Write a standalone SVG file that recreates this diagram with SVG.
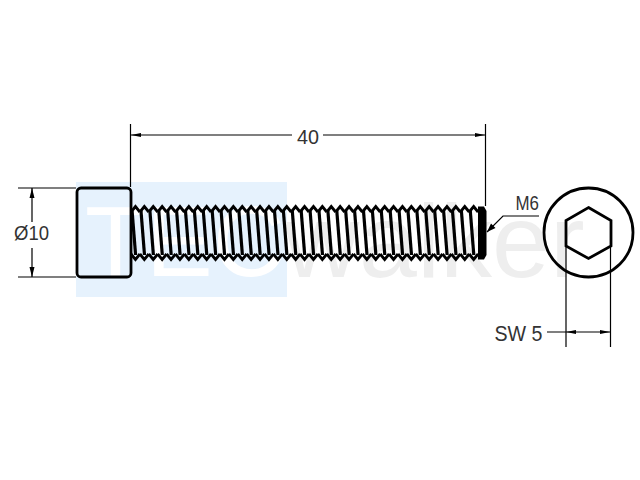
<svg xmlns="http://www.w3.org/2000/svg" width="640" height="480" viewBox="0 0 640 480">
<style>
.dim{stroke:#000;stroke-width:1.2;fill:none}
.thick{stroke:#000;stroke-width:2.8;fill:none;stroke-linejoin:miter}
.ar{fill:#000}
.t{font-family:"Liberation Sans",Arial,sans-serif;fill:#333}
.w{font-family:"Liberation Sans",Arial,sans-serif}
</style>
<defs>
<g id="th"><path class="thick" d="M0 212L4.450 206.500L8.900 212M0 254L4.450 259.500L8.900 254"/><path d="M-0.500 211L2.700 211L6.200 255L3 255Z" fill="#000"/></g>
</defs>
<rect width="640" height="480" fill="#fff"/>
<g id="watermark">
<rect x="76" y="182" width="211" height="115" fill="#e6f2fd"/>
<text class="w" x="85" y="276" font-size="100" fill="#fff">TEC</text>
<text class="w" x="284" y="277" font-size="104" fill="#eeeeee">walker</text>
</g>
<g id="connectors">
<path class="dim" d="M18 188H76M18 277H76M32 188V222M32 248V277M130.500 124V187M485.500 124V206M131 135H292M323 135H485M487 232L503 216H539M566 246V347M610.500 246V347M547 332H610"/>
<path class="ar" d="M32 188L34.500 198H29.500ZM32 277L34.500 267H29.500ZM131 135L141 133V137ZM485 135L475 133V137ZM487 232L491 223.500L495.500 228ZM566 332L576 330V334ZM610 332L600 330V334Z"/>
</g>
<g id="head"><rect class="thick" x="77" y="188" width="54" height="89" rx="4"/></g>
<g id="shaft">
<use href="#th" x="131"/><use href="#th" x="139.900"/><use href="#th" x="148.800"/><use href="#th" x="157.700"/><use href="#th" x="166.600"/><use href="#th" x="175.500"/><use href="#th" x="184.400"/><use href="#th" x="193.300"/><use href="#th" x="202.200"/><use href="#th" x="211.100"/>
<use href="#th" x="220"/><use href="#th" x="228.900"/><use href="#th" x="237.800"/><use href="#th" x="246.700"/><use href="#th" x="255.600"/><use href="#th" x="264.500"/><use href="#th" x="273.400"/><use href="#th" x="282.300"/><use href="#th" x="291.200"/><use href="#th" x="300.100"/>
<use href="#th" x="309"/><use href="#th" x="317.900"/><use href="#th" x="326.800"/><use href="#th" x="335.700"/><use href="#th" x="344.600"/><use href="#th" x="353.500"/><use href="#th" x="362.400"/><use href="#th" x="371.300"/><use href="#th" x="380.200"/><use href="#th" x="389.100"/>
<use href="#th" x="398"/><use href="#th" x="406.900"/><use href="#th" x="415.800"/><use href="#th" x="424.700"/><use href="#th" x="433.600"/><use href="#th" x="442.500"/><use href="#th" x="451.400"/><use href="#th" x="460.300"/><use href="#th" x="469.200"/>
<path d="M478 206.500L480 206.500H484L486.500 211V255L484 259.500H478Z" fill="#000"/>
</g>
<g id="end-view">
<circle class="thick" cx="588.500" cy="232.500" r="44.500"/>
<path class="thick" d="M588.500 207.500L611 220.500V246L588.500 258.500L566 246V220.500Z"/>
</g>
<g id="labels">
<text class="t" x="297" y="144" font-size="21" textLength="22" lengthAdjust="spacingAndGlyphs">40</text>
<text class="t" x="515.500" y="210" font-size="21" textLength="23.500" lengthAdjust="spacingAndGlyphs">M6</text>
<text class="t" x="494.500" y="341" font-size="22" textLength="48" lengthAdjust="spacingAndGlyphs">SW 5</text>
<text class="t" x="14" y="240" font-size="20" textLength="35" lengthAdjust="spacingAndGlyphs">Ø10</text>
</g>
</svg>
